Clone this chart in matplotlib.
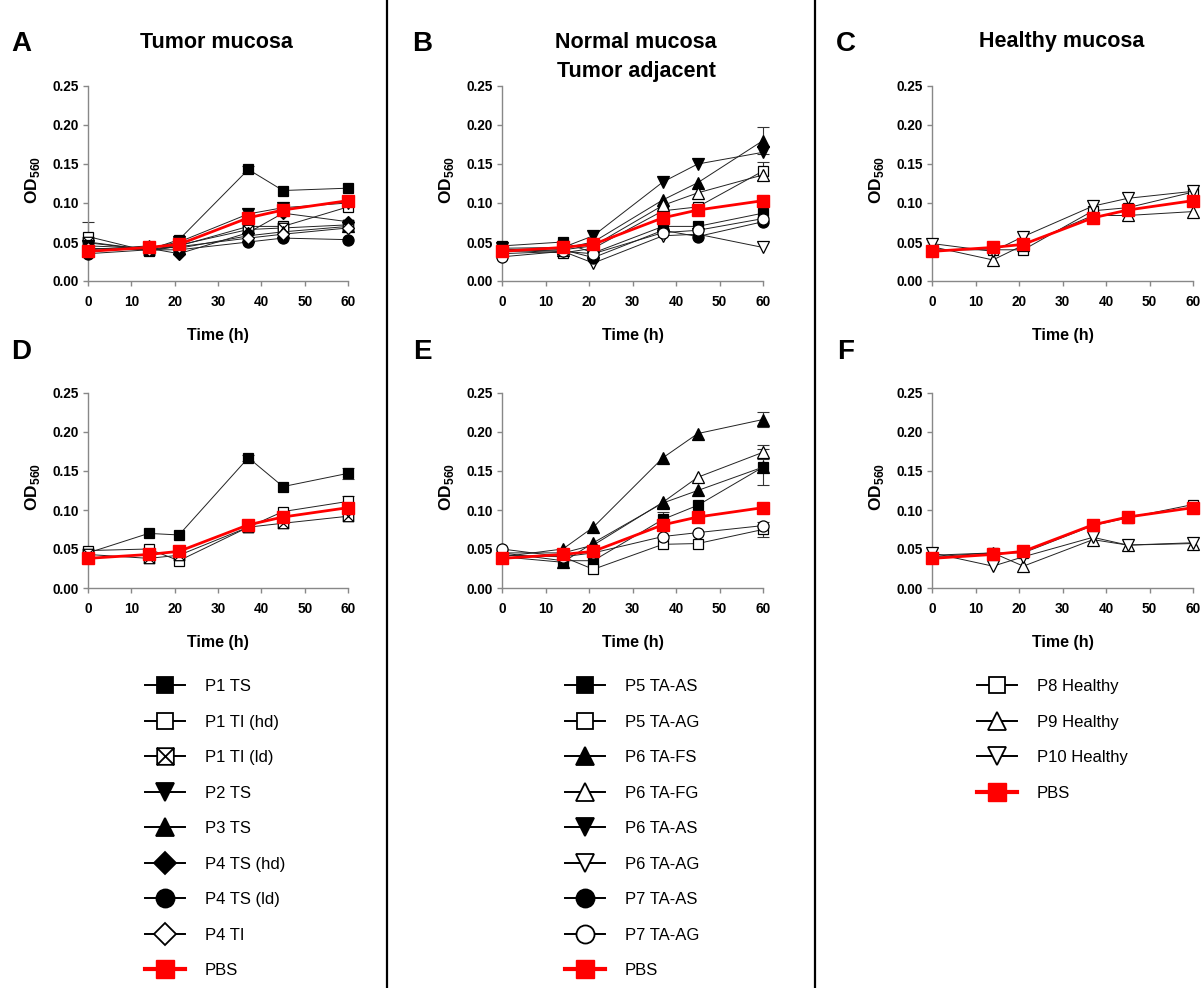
import numpy as np
import matplotlib
matplotlib.use('Agg')
import matplotlib.pyplot as plt
from matplotlib.path import Path
from matplotlib.lines import Line2D

plt.rcParams['font.family'] = ['Liberation Sans', 'DejaVu Sans']
plt.rcParams['mathtext.fontset'] = 'custom'
plt.rcParams['mathtext.rm'] = 'Liberation Sans:bold'
plt.rcParams['mathtext.bf'] = 'Liberation Sans:bold'

# ---------------- data ----------------
time_h = [0, 14, 21, 37, 45, 60]
x_ticks = [0, 10, 20, 30, 40, 50, 60]
y_ticks = [0.00, 0.05, 0.10, 0.15, 0.20, 0.25]

pbs = [0.038, 0.043, 0.047, 0.081, 0.091, 0.103]

# Panel A (tumor mucosa)
a_p1_ts = [0.049, 0.040, 0.053, 0.143, 0.116, 0.119]
a_p1_ti_hd = [0.057, 0.038, 0.045, 0.070, 0.070, 0.095]
a_p1_ti_ld = [0.050, 0.040, 0.046, 0.066, 0.068, 0.072]
a_p2_ts = [0.045, 0.042, 0.050, 0.086, 0.094, 0.100]
a_p3_ts = [0.040, 0.045, 0.042, 0.058, 0.063, 0.070]
a_p4_ts_hd = [0.038, 0.042, 0.035, 0.062, 0.087, 0.076]
a_p4_ts_ld = [0.035, 0.040, 0.040, 0.050, 0.055, 0.053]
a_p4_ti = [0.042, 0.040, 0.044, 0.055, 0.060, 0.068]
a_err_p1_ts = [0.0, 0.0, 0.0, 0.005, 0.0, 0.0]
a_err_p1_ti_hd = [0.018, 0.0, 0.0, 0.0, 0.0, 0.0]

# Panel B (normal mucosa, tumor adjacent)
b_p5_ta_as = [0.045, 0.050, 0.036, 0.070, 0.070, 0.087]
b_p5_ta_ag = [0.040, 0.036, 0.042, 0.090, 0.095, 0.141]
b_p6_ta_fs = [0.040, 0.042, 0.050, 0.104, 0.126, 0.180]
b_p6_ta_fg = [0.038, 0.040, 0.045, 0.097, 0.113, 0.136]
b_p6_ta_as = [0.042, 0.043, 0.058, 0.127, 0.150, 0.165]
b_p6_ta_ag = [0.035, 0.038, 0.023, 0.058, 0.060, 0.043]
b_p7_ta_as = [0.038, 0.040, 0.030, 0.065, 0.057, 0.076]
b_p7_ta_ag = [0.031, 0.038, 0.035, 0.062, 0.065, 0.080]
b_err_p6_ta_fs = [0.0, 0.0, 0.0, 0.0, 0.0, 0.017]
b_err_p5_ta_ag = [0.0, 0.0, 0.0, 0.0, 0.0, 0.012]

# Panel C (healthy mucosa)
c_p8 = [0.040, 0.040, 0.040, 0.090, 0.094, 0.114]
c_p9 = [0.044, 0.027, 0.046, 0.084, 0.084, 0.089]
c_p10 = [0.048, 0.038, 0.057, 0.096, 0.106, 0.115]

# Panel D
d_p1_ts = [0.045, 0.070, 0.068, 0.167, 0.130, 0.147]
d_p1_ti_hd = [0.048, 0.050, 0.035, 0.078, 0.098, 0.111]
d_p1_ti_ld = [0.043, 0.038, 0.042, 0.078, 0.083, 0.092]
d_err_p1_ts = [0.0, 0.0, 0.0, 0.004, 0.0, 0.007]
d_err_p1_ti_hd = [0.0, 0.0, 0.0, 0.0, 0.0, 0.007]

# Panel E
e_p5_ta_as = [0.045, 0.035, 0.035, 0.088, 0.106, 0.155]
e_p5_ta_ag = [0.042, 0.040, 0.024, 0.056, 0.057, 0.075]
e_p6_ta_fs = [0.040, 0.050, 0.078, 0.167, 0.198, 0.216]
e_p6_ta_fg = [0.045, 0.045, 0.055, 0.110, 0.142, 0.174]
e_p6_ta_as = [0.040, 0.033, 0.058, 0.109, 0.125, 0.155]
e_p7_ta_ag = [0.050, 0.040, 0.045, 0.066, 0.071, 0.080]
e_err_p5_ta_as = [0.0, 0.0, 0.0, 0.010, 0.0, 0.023]
e_err_p5_ta_ag = [0.0, 0.0, 0.0, 0.0, 0.0, 0.010]
e_err_p6_ta_fs = [0.0, 0.0, 0.0, 0.0, 0.0, 0.009]
e_err_p6_ta_fg = [0.0, 0.0, 0.0, 0.0, 0.0, 0.009]

# Panel F
f_p8 = [0.040, 0.045, 0.045, 0.080, 0.090, 0.107]
f_p9 = [0.042, 0.045, 0.028, 0.062, 0.055, 0.057]
f_p10 = [0.045, 0.028, 0.040, 0.065, 0.055, 0.058]

legend_tumor = ['P1 TS', 'P1 TI (hd)', 'P1 TI (ld)', 'P2 TS', 'P3 TS',
                'P4 TS (hd)', 'P4 TS (ld)', 'P4 TI', 'PBS']
legend_adjacent = ['P5 TA-AS', 'P5 TA-AG', 'P6 TA-FS', 'P6 TA-FG', 'P6 TA-AS',
                   'P6 TA-AG', 'P7 TA-AS', 'P7 TA-AG', 'PBS']
legend_healthy = ['P8 Healthy', 'P9 Healthy', 'P10 Healthy', 'PBS']

# ---------------- styles ----------------
xsq = Path([(-1, -1), (1, -1), (1, 1), (-1, 1), (-1, -1),
            (-1, -1), (1, 1), (-1, 1), (1, -1)],
           [Path.MOVETO, Path.LINETO, Path.LINETO, Path.LINETO, Path.CLOSEPOLY,
            Path.MOVETO, Path.LINETO, Path.MOVETO, Path.LINETO])

STY = {
    'fs': ('s', 'black'), 'os': ('s', 'white'), 'xs': (xsq, 'white'),
    'fv': ('v', 'black'), 'ov': ('v', 'white'),
    'f^': ('^', 'black'), 'o^': ('^', 'white'),
    'fD': ('D', 'black'), 'oD': ('D', 'white'),
    'fo': ('o', 'black'), 'oo': ('o', 'white'),
}
LEG_STY = {
    'P1 TS': 'fs', 'P1 TI (hd)': 'os', 'P1 TI (ld)': 'xs', 'P2 TS': 'fv',
    'P3 TS': 'f^', 'P4 TS (hd)': 'fD', 'P4 TS (ld)': 'fo', 'P4 TI': 'oD',
    'P5 TA-AS': 'fs', 'P5 TA-AG': 'os', 'P6 TA-FS': 'f^', 'P6 TA-FG': 'o^',
    'P6 TA-AS': 'fv', 'P6 TA-AG': 'ov', 'P7 TA-AS': 'fo', 'P7 TA-AG': 'oo',
    'P8 Healthy': 'os', 'P9 Healthy': 'o^', 'P10 Healthy': 'ov',
}
MS = {'s': 7.5, 'v': 8.5, '^': 8.5, 'D': 6.5, 'o': 8}

W, H = 1202, 988
fig = plt.figure(figsize=(W / 100, H / 100), dpi=100)


def rect(x0, x1, ytop, ybot):
    return [x0 / W, 1 - ybot / H, (x1 - x0) / W, (ybot - ytop) / H]


def draw(ax, key, vals, err=None):
    m, fc = STY[key]
    ms = MS.get(m, 7.5) if isinstance(m, str) else 7.5
    ax.plot(time_h, vals, color='#222222', lw=0.7, marker=m, ms=ms,
            mfc=fc, mec='black', mew=0.9, clip_on=False, zorder=3)
    if err is not None:
        e = np.asarray(err)
        idx = np.nonzero(e)[0]
        ax.errorbar(np.asarray(time_h)[idx], np.asarray(vals)[idx], yerr=e[idx],
                    fmt='none', ecolor='#333333', elinewidth=0.8, capsize=4,
                    capthick=0.8, clip_on=False, zorder=2.5)


def style(ax):
    ax.set_xlim(0, 60)
    ax.set_ylim(0, 0.25)
    ax.set_xticks(x_ticks)
    ax.set_yticks(y_ticks)
    ax.set_yticklabels(['%.2f' % v for v in y_ticks])
    for s in ('top', 'right'):
        ax.spines[s].set_visible(False)
    for s in ('left', 'bottom'):
        ax.spines[s].set_color('#888888')
        ax.spines[s].set_linewidth(1.0)
    ax.tick_params(direction='out', length=3.5, width=1.0, color='#888888',
                   labelsize=9.8)
    ax.tick_params(axis='x', pad=6.5)
    ax.tick_params(axis='y', pad=3)
    for lab in ax.get_xticklabels() + ax.get_yticklabels():
        lab.set_fontweight('bold')
    ax.set_xlabel('Time (h)', fontsize=11.5, fontweight='bold', labelpad=14)
    ax.set_ylabel(r'OD$_{\mathregular{560}}$', fontsize=12.5, fontweight='bold')
    ax.yaxis.set_label_coords(-0.175, 0.52)
    ax.plot(time_h, pbs, color='red', lw=2.0, marker='s', ms=9, mfc='red',
            mec='red', clip_on=False, zorder=5)


# row tops/bottoms
top1, bot1 = 86, 281
top2, bot2 = 393, 588
colx = [(88, 348), (502, 763), (932, 1193)]

axA = fig.add_axes(rect(*colx[0], top1, bot1))
axB = fig.add_axes(rect(*colx[1], top1, bot1))
axC = fig.add_axes(rect(*colx[2], top1, bot1))
axD = fig.add_axes(rect(*colx[0], top2, bot2))
axE = fig.add_axes(rect(*colx[1], top2, bot2))
axF = fig.add_axes(rect(*colx[2], top2, bot2))

# Panel A
draw(axA, 'fs', a_p1_ts, a_err_p1_ts)
draw(axA, 'os', a_p1_ti_hd, a_err_p1_ti_hd)
draw(axA, 'xs', a_p1_ti_ld)
draw(axA, 'fv', a_p2_ts)
draw(axA, 'f^', a_p3_ts)
draw(axA, 'fD', a_p4_ts_hd)
draw(axA, 'fo', a_p4_ts_ld)
draw(axA, 'oD', a_p4_ti)
style(axA)

# Panel B
draw(axB, 'fs', b_p5_ta_as)
draw(axB, 'os', b_p5_ta_ag, b_err_p5_ta_ag)
draw(axB, 'f^', b_p6_ta_fs, b_err_p6_ta_fs)
draw(axB, 'o^', b_p6_ta_fg)
draw(axB, 'fv', b_p6_ta_as)
draw(axB, 'ov', b_p6_ta_ag)
draw(axB, 'fo', b_p7_ta_as)
draw(axB, 'oo', b_p7_ta_ag)
style(axB)

# Panel C
draw(axC, 'os', c_p8)
draw(axC, 'o^', c_p9)
draw(axC, 'ov', c_p10)
style(axC)

# Panel D
draw(axD, 'fs', d_p1_ts, d_err_p1_ts)
draw(axD, 'os', d_p1_ti_hd, d_err_p1_ti_hd)
draw(axD, 'xs', d_p1_ti_ld)
style(axD)

# Panel E
draw(axE, 'fs', e_p5_ta_as, e_err_p5_ta_as)
draw(axE, 'os', e_p5_ta_ag, e_err_p5_ta_ag)
draw(axE, 'f^', e_p6_ta_fs, e_err_p6_ta_fs)
draw(axE, 'o^', e_p6_ta_fg, e_err_p6_ta_fg)
draw(axE, 'f^', e_p6_ta_as)
draw(axE, 'oo', e_p7_ta_ag)
style(axE)

# Panel F
draw(axF, 'os', f_p8)
draw(axF, 'o^', f_p9)
draw(axF, 'ov', f_p10)
style(axF)

# titles and panel letters
tkw = dict(fontsize=15.5, fontweight='bold', ha='center', va='center')
fig.text(216 / W, 1 - 42 / H, 'Tumor mucosa', **tkw)
fig.text(636 / W, 1 - 42 / H, 'Normal mucosa', **tkw)
fig.text(636 / W, 1 - 72 / H, 'Tumor adjacent', **tkw)
fig.text(1062 / W, 1 - 42 / H, 'Healthy mucosa', **tkw)
lkw = dict(fontsize=20, fontweight='bold', ha='center', va='center')
for lab, x, y in [('A', 21, 44), ('B', 422, 44), ('C', 846, 44),
                  ('D', 21, 352), ('E', 422, 352), ('F', 846, 352)]:
    fig.text(x / W, 1 - y / H, lab, **lkw)

# dividers
for xv in (387, 815):
    fig.add_artist(Line2D([xv / W, xv / W], [0, 1], color='black', lw=1.6,
                          transform=fig.transFigure))


# legends
def handles(labels):
    hs = []
    for lab in labels:
        if lab == 'PBS':
            hs.append(Line2D([], [], color='red', lw=3, marker='s', ms=13,
                             mfc='red', mec='red'))
        else:
            m, fc = STY[LEG_STY[lab]]
            ms = {'s': 12, 'v': 13, '^': 13, 'D': 11, 'o': 13}.get(m, 12) \
                if isinstance(m, str) else 12
            hs.append(Line2D([], [], color='black', lw=1.4, marker=m, ms=ms,
                             mfc=fc, mec='black', mew=1.3))
    return hs


legkw = dict(loc='upper left', frameon=False, fontsize=12, handlelength=2.4,
             handletextpad=1.2, labelspacing=1.23, borderpad=0,
             borderaxespad=0, numpoints=1, bbox_transform=fig.transFigure)
fig.legend(handles(legend_tumor), legend_tumor,
           bbox_to_anchor=(145 / W, 1 - 679 / H), **legkw)
fig.legend(handles(legend_adjacent), legend_adjacent,
           bbox_to_anchor=(565 / W, 1 - 679 / H), **legkw)
fig.legend(handles(legend_healthy), legend_healthy,
           bbox_to_anchor=(977 / W, 1 - 679 / H), **legkw)

fig.savefig('out.png', dpi=100)
